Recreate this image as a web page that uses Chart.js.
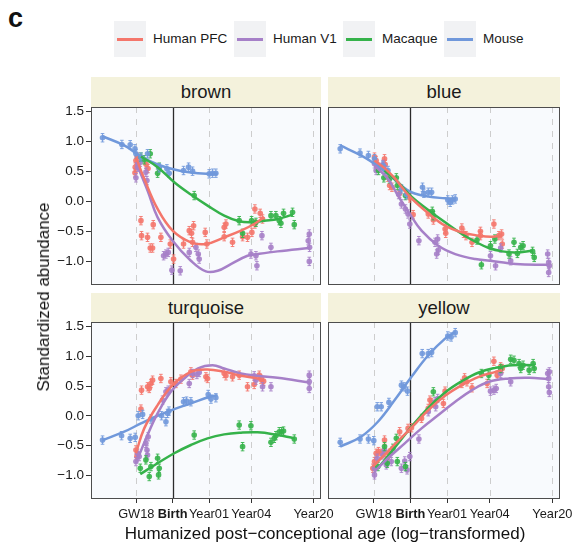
<!DOCTYPE html>
<html>
<head>
<meta charset="utf-8">
<script src="https://cdn.jsdelivr.net/npm/chart.js@4.4.1/dist/chart.umd.min.js"></script>
<style>
  body { margin: 0; background: #fff; font-family: "Liberation Sans", Arial, sans-serif; }
  #wrap { position: relative; width: 581px; height: 546px; overflow: hidden; background: #fff; }
  #wrap canvas { position: absolute; left: 0; top: 0; }
  .txt { position: absolute; white-space: nowrap; color: #111; }
  .strip { position: absolute; background: #f4f2dc; text-align: center; font-size: 18.5px; color: #1a1a1a; }
  .key { position: absolute; top: 21px; width: 32px; height: 36px; background: #f1f2f4; }
  .key span { position: absolute; left: 3px; right: 3px; top: 17px; height: 2.5px; }
  .lab { position: absolute; top: 30px; font-size: 13.5px; line-height: 18px; color: #1a1a1a; white-space: nowrap; }
</style>
</head>
<body>
<div id="wrap">
  <div class="txt" style="left:8px;top:2px;font-size:27px;font-weight:bold;line-height:32px;">c</div>
  <div id="legend"></div>
  <div id="strips"></div>
  <canvas id="c0" width="581" height="546"></canvas>
  <canvas id="c1" width="581" height="546"></canvas>
  <canvas id="c2" width="581" height="546"></canvas>
  <canvas id="c3" width="581" height="546"></canvas>
  <div class="txt" style="left:325px;top:524px;font-size:17px;line-height:20px;transform:translateX(-50%);">Humanized post&#8722;conceptional age (log&#8722;transformed)</div>
  <div class="txt" style="left:44px;top:297px;font-size:17px;line-height:20px;transform:translate(-50%,-50%) rotate(-90deg);">Standardized abundance</div>
</div>
<script>
var species = ['Human PFC', 'Human V1', 'Macaque', 'Mouse'];
var speciesColors = ['#f4766b', '#a680c8', '#35b24a', '#7098db'];
var pointColors = ['rgba(244,118,107,0.9)', 'rgba(166,128,200,0.9)', 'rgba(53,178,74,0.9)', 'rgba(112,152,219,0.9)'];
var modules = ['brown', 'blue', 'turquoise', 'yellow'];

// x = log10(days post conception)
var xTickValues = [2.049, 2.425, 2.800, 3.237, 3.879];
var xTickLabels = ['GW18', 'Birth', 'Year01', 'Year04', 'Year20'];
var yTickValues = [-1.0, -0.5, 0, 0.5, 1.0, 1.5];
var errHalf = 0.07;

// brown
var brownPFC = [[2.045,0.685],[2.038,0.573],[2.035,0.478],[2.062,0.741],[2.150,0.620],[2.170,0.550],[2.097,-0.323],[2.103,-0.574],[2.165,-0.602],[2.193,-0.781],[2.217,-0.781],[2.224,-0.390],[2.303,-0.602],[2.400,-0.714],[2.434,-0.966],[2.596,-0.490],[2.620,-0.535],[2.641,-0.407],[2.630,-0.686],[2.537,-0.714],[2.761,-0.519],[2.778,-0.714],[2.957,-0.435],[2.975,-0.379],[2.957,-0.591],[3.043,-0.686],[3.147,-0.591],[3.198,-0.602],[3.243,-0.519],[3.274,-0.127],[3.329,-0.200],[3.353,-0.295],[3.274,-0.379]];
var brownPFCfit = [[2.045,0.741],[2.131,0.377],[2.269,-0.127],[2.424,-0.490],[2.613,-0.686],[2.768,-0.714],[2.957,-0.602],[3.130,-0.490],[3.267,-0.379],[3.371,-0.267]];
var brownV1 = [[2.045,0.394],[2.062,0.573],[2.090,0.657],[2.148,0.489],[2.159,0.349],[2.331,-0.910],[2.355,-0.882],[2.379,-0.854],[2.417,-1.151],[2.503,-1.162],[2.596,-0.854],[2.665,-0.770],[2.689,-0.882],[2.699,-0.966],[3.233,-0.882],[3.285,-0.910],[3.295,-1.078],[3.347,-0.574],[3.440,-0.770],[3.825,-0.658],[3.836,-0.546],[3.839,-0.770],[3.836,-1.005]];
var brownV1fit = [[2.045,0.657],[2.165,0.181],[2.269,-0.267],[2.424,-0.658],[2.613,-0.994],[2.768,-1.173],[2.889,-1.162],[3.026,-1.050],[3.198,-0.910],[3.302,-0.882],[3.508,-0.837],[3.836,-0.781]];
var brownMac = [[2.097,0.741],[2.131,0.696],[2.193,0.797],[2.286,0.573],[2.269,0.472],[2.647,0.097],[3.112,-0.323],[3.147,-0.535],[3.240,-0.323],[3.285,-0.351],[3.440,-0.239],[3.491,-0.239],[3.526,-0.323],[3.543,-0.367],[3.570,-0.200],[3.663,-0.183],[3.681,-0.390]];
var brownMacFit = [[2.097,0.752],[2.269,0.573],[2.441,0.321],[2.613,0.114],[2.785,-0.071],[2.957,-0.239],[3.112,-0.334],[3.233,-0.351],[3.371,-0.323],[3.508,-0.295],[3.663,-0.222]];
var brownMouse = [[1.700,1.065],[1.900,0.953],[1.986,0.948],[2.035,0.880],[2.045,0.797],[2.097,0.741],[2.165,0.797],[2.286,0.562],[2.365,0.545],[2.389,0.472],[2.537,0.517],[2.589,0.573],[2.630,0.506],[2.802,0.461],[2.837,0.472],[2.871,0.472]];
var brownMouseFit = [[1.700,1.090],[1.924,0.937],[2.097,0.752],[2.269,0.617],[2.441,0.533],[2.613,0.483],[2.785,0.461],[2.889,0.461]];

// blue
var bluePFC = [[2.057,0.741],[2.074,0.685],[2.085,0.584],[2.160,0.713],[2.167,0.618],[2.195,0.405],[2.212,0.265],[2.236,0.237],[2.315,0.136],[2.419,0.058],[2.453,-0.222],[2.608,-0.211],[2.660,-0.312],[2.780,-0.463],[2.787,-0.535],[2.952,-0.446],[2.970,-0.535],[2.994,-0.574],[3.056,-0.686],[3.142,-0.502],[3.142,-0.574],[3.280,-0.379],[3.331,-0.574],[3.359,-0.546],[3.366,-0.714]];
var bluePFCfit = [[2.057,0.685],[2.160,0.556],[2.264,0.388],[2.419,0.080],[2.608,-0.199],[2.780,-0.407],[2.952,-0.519],[3.125,-0.574],[3.262,-0.591],[3.366,-0.563]];
var blueV1 = [[2.057,0.629],[2.074,0.517],[2.098,0.573],[2.143,0.618],[2.167,0.528],[2.305,0.114],[2.333,-0.043],[2.374,-0.127],[2.401,-0.211],[2.419,-0.379],[2.512,-0.658],[2.677,-0.686],[2.704,-0.630],[2.694,-0.882],[2.711,-0.815],[3.245,-0.910],[3.297,-1.078],[3.349,-0.781],[3.452,-0.994],[3.831,-0.882],[3.841,-1.022],[3.841,-1.190],[3.848,-1.078]];
var blueV1fit = [[2.057,0.601],[2.195,0.377],[2.298,0.097],[2.419,-0.211],[2.539,-0.491],[2.711,-0.742],[2.884,-0.882],[3.090,-0.966],[3.297,-1.005],[3.504,-1.050],[3.831,-1.061]];
var blueMac = [[2.098,0.517],[2.153,0.394],[2.212,0.377],[2.281,0.394],[2.291,0.265],[2.374,0.097],[2.649,-0.166],[2.660,-0.239],[3.107,-0.647],[3.152,-1.061],[3.245,-0.742],[3.290,-0.630],[3.435,-0.882],[3.486,-0.686],[3.521,-0.871],[3.555,-0.770],[3.579,-0.742],[3.676,-0.837],[3.693,-0.938]];
var blueMacFit = [[2.160,0.517],[2.298,0.321],[2.436,0.080],[2.608,-0.143],[2.780,-0.351],[2.952,-0.546],[3.090,-0.675],[3.228,-0.781],[3.366,-0.837],[3.504,-0.854],[3.676,-0.826]];
var blueMouse = [[1.706,0.880],[1.909,0.808],[1.995,0.769],[2.057,0.713],[2.143,0.601],[2.195,0.517],[2.333,0.209],[2.384,0.114],[2.549,0.237],[2.563,0.136],[2.608,0.153],[2.642,0.153],[2.808,0.024],[2.832,-0.015],[2.856,0.024],[2.884,0.041]];
var blueMouseFit = [[1.706,0.936],[1.919,0.769],[2.057,0.629],[2.195,0.461],[2.333,0.265],[2.436,0.153],[2.608,0.080],[2.780,0.052],[2.884,0.041]];

// turquoise
var turqPFC = [[2.045,-0.574],[2.055,-0.686],[2.097,0.114],[2.103,0.433],[2.165,0.489],[2.183,0.461],[2.200,0.545],[2.217,0.601],[2.303,0.629],[2.406,0.573],[2.458,0.545],[2.510,0.618],[2.613,0.741],[2.630,0.685],[2.768,0.657],[2.785,0.629],[2.957,0.713],[2.975,0.674],[3.043,0.657],[3.112,0.685],[3.198,0.489],[3.267,0.528],[3.319,0.685],[3.336,0.618],[3.364,0.584]];
var turqPFCfit = [[2.045,-0.630],[2.131,-0.211],[2.269,0.181],[2.424,0.517],[2.613,0.741],[2.785,0.780],[2.957,0.741],[3.130,0.674],[3.302,0.629],[3.371,0.584]];
var turqV1 = [[2.045,-0.770],[2.062,-0.630],[2.079,-0.686],[2.148,-0.463],[2.159,-0.574],[2.165,-0.658],[2.172,-0.351],[2.320,0.265],[2.355,0.405],[2.379,0.433],[2.596,0.545],[2.630,0.713],[2.675,0.696],[2.699,0.730],[3.267,0.674],[3.285,0.601],[3.353,0.489],[3.440,0.489],[3.836,0.685],[3.836,0.573],[3.836,0.461]];
var turqV1fit = [[2.045,-0.798],[2.165,-0.323],[2.269,0.041],[2.406,0.405],[2.544,0.629],[2.682,0.797],[2.837,0.853],[2.957,0.797],[3.130,0.713],[3.302,0.674],[3.508,0.640],[3.836,0.562]];
var turqMac = [[2.090,-0.882],[2.148,-0.742],[2.183,-1.022],[2.200,-0.854],[2.269,-0.714],[2.279,-0.994],[2.286,-0.882],[2.647,-0.323],[3.112,-0.155],[3.147,-0.519],[3.233,-0.166],[3.440,-0.446],[3.474,-0.379],[3.491,-0.334],[3.526,-0.267],[3.550,-0.267],[3.570,-0.256],[3.681,-0.390]];
var turqMacFit = [[2.090,-0.982],[2.269,-0.798],[2.441,-0.630],[2.613,-0.491],[2.785,-0.379],[2.957,-0.312],[3.130,-0.284],[3.302,-0.278],[3.474,-0.312],[3.681,-0.379]];
var turqMouse = [[1.700,-0.408],[1.897,-0.334],[1.986,-0.379],[2.038,-0.362],[2.069,0.002],[2.114,0.024],[2.200,-0.054],[2.310,0.002],[2.355,-0.099],[2.372,0.041],[2.386,0.080],[2.537,0.237],[2.568,0.248],[2.613,0.237],[2.792,0.360],[2.820,0.282],[2.871,0.304]];
var turqMouseFit = [[1.700,-0.408],[1.924,-0.267],[2.097,-0.127],[2.269,0.002],[2.441,0.114],[2.613,0.209],[2.802,0.321],[2.889,0.349]];

// yellow
var yellowPFC = [[2.040,-0.882],[2.057,-0.770],[2.074,-0.630],[2.098,-0.602],[2.126,-0.630],[2.160,-0.407],[2.188,-0.714],[2.212,-0.630],[2.315,-0.267],[2.401,-0.211],[2.436,-0.200],[2.539,-0.043],[2.608,0.125],[2.625,0.265],[2.642,0.226],[2.763,0.209],[2.780,0.416],[2.952,0.545],[2.980,0.640],[3.004,0.573],[3.056,0.472],[3.211,0.545],[3.280,0.920],[3.314,0.685],[3.349,0.825],[3.366,0.797]];
var yellowPFCfit = [[2.040,-0.854],[2.160,-0.658],[2.264,-0.479],[2.436,-0.200],[2.608,0.097],[2.780,0.338],[2.952,0.517],[3.125,0.657],[3.297,0.741],[3.366,0.769]];
var yellowV1 = [[2.057,-0.994],[2.057,-0.882],[2.085,-0.714],[2.143,-0.658],[2.160,-0.574],[2.178,-0.826],[2.229,-0.770],[2.333,-0.882],[2.367,-0.759],[2.391,-0.910],[2.419,-0.686],[2.512,-0.390],[2.608,0.069],[2.677,0.237],[2.704,0.293],[2.684,0.153],[3.245,0.416],[3.280,0.433],[3.304,0.461],[3.349,0.713],[3.452,0.573],[3.831,0.713],[3.841,0.629],[3.841,0.489],[3.848,0.394],[3.848,0.741]];
var yellowV1fit = [[2.057,-0.938],[2.195,-0.714],[2.367,-0.463],[2.539,-0.211],[2.711,0.013],[2.884,0.237],[3.056,0.433],[3.228,0.573],[3.435,0.629],[3.641,0.640],[3.831,0.618]];
var yellowMac = [[2.092,-0.854],[2.160,-0.518],[2.188,-0.798],[2.246,-0.546],[2.281,-0.379],[2.291,-0.770],[2.374,-0.854],[2.660,0.405],[3.152,0.713],[3.228,0.685],[3.349,0.797],[3.452,0.953],[3.486,0.936],[3.538,0.880],[3.555,0.797],[3.579,0.853],[3.641,0.769],[3.682,0.880],[3.693,0.797]];
var yellowMacFit = [[2.092,-0.882],[2.264,-0.535],[2.436,-0.183],[2.608,0.136],[2.780,0.394],[2.952,0.584],[3.125,0.730],[3.297,0.808],[3.469,0.853],[3.676,0.853]];
var yellowMouse = [[1.706,-0.446],[1.909,-0.390],[1.995,-0.390],[2.050,-0.418],[2.085,0.153],[2.126,0.153],[2.205,0.226],[2.333,0.517],[2.360,0.489],[2.395,0.416],[2.546,1.048],[2.608,1.048],[2.642,1.065],[2.808,1.345],[2.842,1.328],[2.884,1.401]];
var yellowMouseFit = [[1.706,-0.518],[1.919,-0.351],[2.092,-0.099],[2.264,0.265],[2.436,0.657],[2.608,1.020],[2.780,1.300],[2.884,1.412]];

var panels = [
  { pts: [brownPFC, brownV1, brownMac, brownMouse], fits: [brownPFCfit, brownV1fit, brownMacFit, brownMouseFit],
    pad: { left: 30, top: 107, right: 260, bottom: 261 }, showY: true, showX: false, strip: [91, 77, 230, 30] },
  { pts: [bluePFC, blueV1, blueMac, blueMouse], fits: [bluePFCfit, blueV1fit, blueMacFit, blueMouseFit],
    pad: { left: 328, top: 107, right: 21, bottom: 261 }, showY: false, showX: false, strip: [328, 77, 232, 30] },
  { pts: [turqPFC, turqV1, turqMac, turqMouse], fits: [turqPFCfit, turqV1fit, turqMacFit, turqMouseFit],
    pad: { left: 30, top: 322, right: 260, bottom: 25 }, showY: true, showX: true, strip: [91, 293, 230, 29] },
  { pts: [yellowPFC, yellowV1, yellowMac, yellowMouse], fits: [yellowPFCfit, yellowV1fit, yellowMacFit, yellowMouseFit],
    pad: { left: 328, top: 322, right: 21, bottom: 25 }, showY: false, showX: true, strip: [328, 293, 232, 29] }
];

// legend
var keyLeft = [114, 234, 343, 444];
var labLeft = [153, 273, 382, 483];
var legend = document.getElementById('legend');
species.forEach(function (s, i) {
  legend.innerHTML += '<div class="key" style="left:' + keyLeft[i] + 'px"><span style="background:' + speciesColors[i] + '"></span></div>' +
    '<div class="lab" style="left:' + labLeft[i] + 'px">' + s + '</div>';
});

// strips
var strips = document.getElementById('strips');
panels.forEach(function (p, i) {
  var r = p.strip;
  strips.innerHTML += '<div class="strip" style="left:' + r[0] + 'px;top:' + r[1] + 'px;width:' + r[2] + 'px;height:' + r[3] + 'px;line-height:' + r[3] + 'px">' + modules[i] + '</div>';
});

function toXY(arr) { return arr.map(function (d) { return { x: d[0], y: d[1] }; }); }

var panelDeco = {
  id: 'panelDeco',
  beforeDatasetsDraw: function (chart) {
    var ctx = chart.ctx, a = chart.chartArea, x = chart.scales.x;
    ctx.save();
    ctx.fillStyle = '#f8fafd';
    ctx.fillRect(a.left, a.top, a.right - a.left, a.bottom - a.top);
    xTickValues.forEach(function (v, i) {
      var px = Math.round(x.getPixelForValue(v)) + 0.5;
      ctx.beginPath();
      if (xTickLabels[i] === 'Birth') {
        ctx.setLineDash([]);
        ctx.strokeStyle = '#2b2b2b';
        ctx.lineWidth = 1.3;
      } else {
        ctx.setLineDash([6, 6]);
        ctx.strokeStyle = '#cdcdcd';
        ctx.lineWidth = 1;
      }
      ctx.moveTo(px, a.top);
      ctx.lineTo(px, a.bottom);
      ctx.stroke();
    });
    ctx.restore();
  },
  afterDatasetDraw: function (chart, args) {
    var ds = chart.data.datasets[args.index];
    if (!ds.errorBars) return;
    var ctx = chart.ctx, y = chart.scales.y;
    ctx.save();
    ctx.strokeStyle = ds.backgroundColor;
    ctx.lineWidth = 1;
    args.meta.data.forEach(function (el, j) {
      var v = ds.data[j].y;
      var y1 = y.getPixelForValue(v + errHalf), y2 = y.getPixelForValue(v - errHalf);
      ctx.beginPath();
      ctx.moveTo(el.x, y1); ctx.lineTo(el.x, y2);
      ctx.moveTo(el.x - 1.8, y1); ctx.lineTo(el.x + 1.8, y1);
      ctx.moveTo(el.x - 1.8, y2); ctx.lineTo(el.x + 1.8, y2);
      ctx.stroke();
    });
    ctx.restore();
  },
  afterDraw: function (chart) {
    var ctx = chart.ctx, a = chart.chartArea;
    ctx.save();
    ctx.strokeStyle = '#4d4d4d';
    ctx.lineWidth = 1;
    ctx.strokeRect(a.left + 0.5, a.top + 0.5, a.right - a.left - 1, a.bottom - a.top - 1);
    ctx.restore();
  }
};

panels.forEach(function (p, k) {
  var datasets = [];
  species.forEach(function (s, i) {
    datasets.push({
      label: s + ' fit', data: toXY(p.fits[i]), showLine: true, borderColor: speciesColors[i],
      borderWidth: 2.5, pointRadius: 0, tension: 0.4, fill: false, order: 1
    });
  });
  species.forEach(function (s, i) {
    datasets.push({
      label: s, data: toXY(p.pts[i]), backgroundColor: pointColors[i], borderWidth: 0,
      pointRadius: 2.8, errorBars: true, order: 2 + (3 - i)
    });
  });

  new Chart(document.getElementById('c' + k), {
    type: 'scatter',
    data: { datasets: datasets },
    options: {
      responsive: false,
      animation: false,
      events: [],
      layout: { padding: p.pad, autoPadding: false },
      plugins: { legend: { display: false }, tooltip: { enabled: false } },
      scales: {
        x: {
          type: 'linear', min: 1.581, max: 3.957,
          display: p.showX,
          afterBuildTicks: function (s) { s.ticks = xTickValues.map(function (v) { return { value: v }; }); },
          afterFit: function (s) { s.height = p.showX ? 22 : 0; },
          border: { display: false },
          grid: { drawOnChartArea: false, drawTicks: true, tickLength: 4, color: '#333' },
          ticks: {
            autoSkip: false, maxRotation: 0, padding: 4, color: '#1a1a1a',
            font: function (c) { return { family: '"Liberation Sans", Arial, sans-serif', size: 12.8, weight: (c.tick && c.tick.label === 'Birth') ? 'bold' : 'normal' }; },
            callback: function (v, i) { return xTickLabels[i]; }
          }
        },
        y: {
          type: 'linear', min: -1.40, max: 1.58,
          display: p.showY,
          afterBuildTicks: function (s) { s.ticks = yTickValues.map(function (v) { return { value: v }; }); },
          afterFit: function (s) { s.width = p.showY ? 61 : 0; },
          border: { display: false },
          grid: { drawOnChartArea: false, drawTicks: true, tickLength: 5, color: '#333' },
          ticks: {
            padding: 2, color: '#1a1a1a',
            font: { family: '"Liberation Sans", Arial, sans-serif', size: 13.5 },
            callback: function (v) { return v.toFixed(1).replace('-', '\u2212'); }
          }
        }
      }
    },
    plugins: [panelDeco]
  });
});
</script>
</body>
</html>
